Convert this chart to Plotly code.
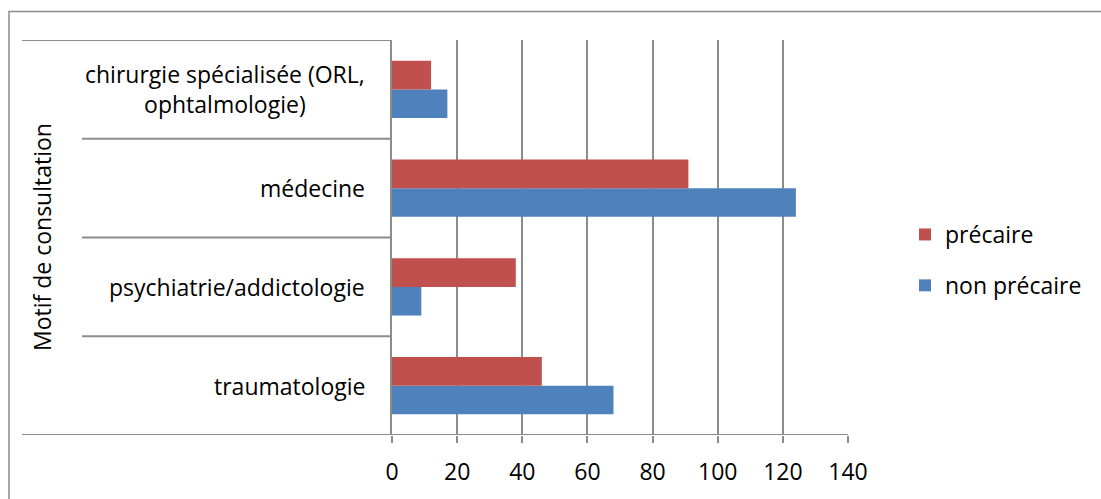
import plotly.graph_objects as go

categories = ["traumatologie", "psychiatrie/addictologie", "médecine",
              "chirurgie spécialisée (ORL, ophtalmologie)"]
category_labels = ["traumatologie", "psychiatrie/addictologie", "médecine",
                   "chirurgie spécialisée (ORL,<br>ophtalmologie)"]
precaire = [46, 38, 91, 12]
non_precaire = [68, 9, 124, 17]
x_ticks = [0, 20, 40, 60, 80, 100, 120, 140]

W, H = 1101, 499
L, R, T, B = 392, 253, 40, 58
PW = W - L - R
PH = H - T - B

def px_x(p):
    return (p - L) / PW

def px_y(p):
    return (H - B - p) / PH

FONT = "Open Sans"
FS = 23
GRAY = "#8c8c8c"

fig = go.Figure()
fig.add_trace(go.Bar(y=categories, x=non_precaire, orientation="h", name="non précaire",
                     marker=dict(color="#4F81BD", line=dict(width=0)), legendgroup="b",
                     legendrank=2))
fig.add_trace(go.Bar(y=categories, x=precaire, orientation="h", name="précaire",
                     marker=dict(color="#C0504D", line=dict(width=0)), legendgroup="a",
                     legendrank=1))

shapes = []
# outer border
shapes.append(dict(type="rect", xref="paper", yref="paper", x0=px_x(9), x1=px_x(1110),
                   y0=px_y(510), y1=px_y(11), line=dict(color=GRAY, width=1.5),
                   fillcolor="rgba(0,0,0,0)", layer="below"))
# category divider lines
edges = [-0.5, 0.5, 1.5, 2.5, 3.5]
for e in edges:
    start = 22 if e in (-0.5, 3.5) else 82
    end = 848 if e == -0.5 else 392
    shapes.append(dict(type="line", xref="paper", yref="y", x0=px_x(start), x1=px_x(end),
                       y0=e, y1=e, line=dict(color=GRAY, width=2)))

annotations = []
for cat, lab in zip(categories, category_labels):
    annotations.append(dict(xref="paper", yref="y", x=px_x(367), y=cat, text=lab,
                            xanchor="right", yanchor="middle", align="center",
                            showarrow=False, font=dict(family=FONT, size=FS, color="#000")))
annotations.append(dict(xref="paper", yref="paper", x=px_x(42), y=px_y(240),
                        text="Motif de consultation", textangle=-90, showarrow=False,
                        xanchor="center", yanchor="middle",
                        font=dict(family=FONT, size=FS, color="#000")))

fig.update_layout(
    width=W, height=H,
    margin=dict(l=L, r=R, t=T, b=B, pad=0),
    paper_bgcolor="white", plot_bgcolor="white",
    barmode="group", bargap=0.42, bargroupgap=0,
    font=dict(family=FONT, size=FS, color="#000"),
    shapes=shapes, annotations=annotations,
    legend=dict(xref="container", yref="container", x=905 / W, y=1 - 260 / H,
                xanchor="left", yanchor="middle", traceorder="grouped",
                tracegroupgap=18, font=dict(family=FONT, size=FS, color="#000"),
                bgcolor="rgba(0,0,0,0)"),
    xaxis=dict(range=[0, 140], tickvals=x_ticks, ticktext=[str(v) for v in x_ticks],
               showgrid=True, gridcolor=GRAY, gridwidth=2, zeroline=False,
               showline=False, ticks="outside", ticklen=7, tickwidth=2, tickcolor=GRAY,
               ticklabelstandoff=9, tickfont=dict(family=FONT, size=FS, color="#000")),
    yaxis=dict(range=[-0.5, 3.5], showticklabels=False, showgrid=False, zeroline=False,
               showline=True, linecolor=GRAY, linewidth=2, ticks=""),
    showlegend=True,
)

fig.write_html("out.html", config={"displayModeBar": False},
               post_script="document.body.style.margin='0';")
